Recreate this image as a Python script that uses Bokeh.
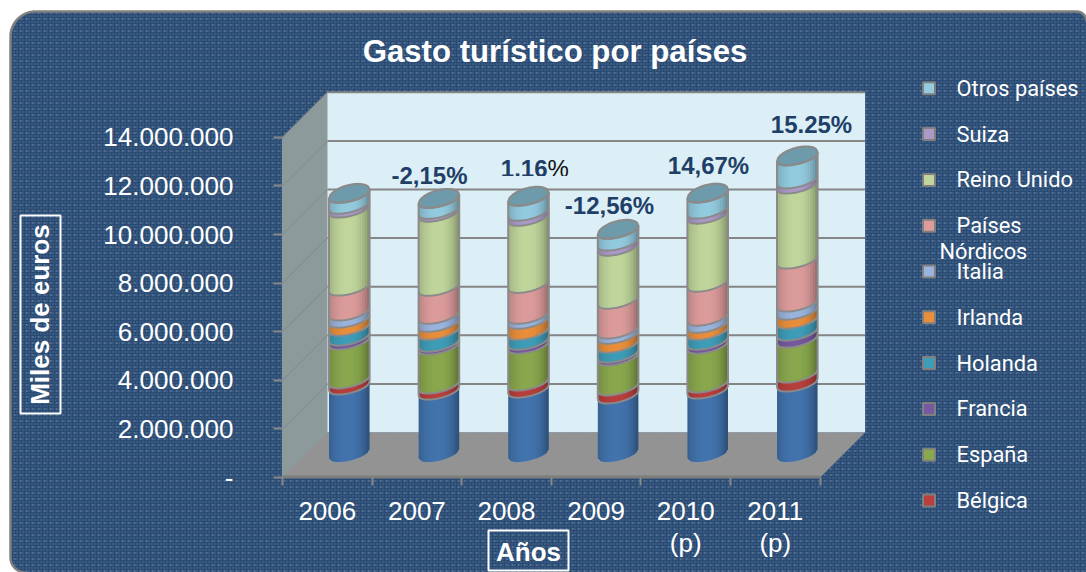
import math
from bokeh.plotting import figure
from bokeh.models import Range1d, FixedTicker
from bokeh.core.properties import value
from bokeh.embed import file_html
from bokeh.resources import INLINE

# ---------- data (miles de euros) ----------
years = ["2006", "2007", "2008", "2009", "2010", "2011"]
year_notes = ["", "", "", "", "(p)", "(p)"]
sin_leyenda = [2800000, 2590000, 2670000, 2430000, 2630000, 2920000]
belgica = [250000, 250000, 290000, 330000, 250000, 370000]
espana = [1600000, 1600000, 1520000, 1230000, 1600000, 1440000]
francia = [160000, 120000, 160000, 120000, 160000, 290000]
holanda = [410000, 490000, 410000, 410000, 410000, 490000]
irlanda = [330000, 330000, 450000, 370000, 290000, 370000]
italia = [290000, 330000, 210000, 210000, 290000, 330000]
nordicos = [1030000, 1150000, 1270000, 1230000, 1400000, 1770000]
reino_unido = [3210000, 3050000, 2760000, 2180000, 2800000, 3090000]
suiza = [160000, 120000, 210000, 210000, 210000, 210000]
otros = [450000, 450000, 620000, 490000, 660000, 950000]
series_values = [sin_leyenda, belgica, espana, francia, holanda, irlanda, italia,
                 nordicos, reino_unido, suiza, otros]
series_colors = ["#4374ad", "#b83f3d", "#8aa84e", "#7659a0", "#3f9db8", "#e98f3c",
                 "#9ab4de", "#dd9c9c", "#c0d69c", "#ab9ac8", "#93cbdf"]
legend_labels = ["", "Bélgica", "España", "Francia", "Holanda", "Irlanda", "Italia",
                 "Países", "Reino Unido", "Suiza", "Otros países"]
growth_labels = ["-2,15%", "1.16", "-12,56%", "14,67%", "15.25%"]
y_ticks = [0, 2000000, 4000000, 6000000, 8000000, 10000000, 12000000, 14000000]
y_tick_labels = ["-", "2.000.000", "4.000.000", "6.000.000", "8.000.000",
                 "10.000.000", "12.000.000", "14.000.000"]

# ---------- layout: page pixels <-> data ----------
X0, UX = 282.0, 89.6          # px of category 0, px per category
Y0, UY = 477.0, 48.6 / 2e6    # px of value 0, px per unit
def dx(px): return (px - X0) / UX
def dy(py): return (Y0 - py) / UY
def wx(px): return px / UX     # width in data
def wy(py): return py / UY     # height in data

p = figure(width=1086, height=572, output_backend="svg", toolbar_location=None,
           x_range=Range1d(dx(0), dx(1086)), y_range=Range1d(dy(572), dy(0)),
           min_border=0, outline_line_color=None, background_fill_color="white",
           border_fill_color="white")
p.grid.visible = False

# ---------- panel ----------
LEFT, TOP = 10.0, 11.0
p.quad(left=dx(LEFT), right=dx(1086), top=dy(TOP), bottom=dy(572), fill_color="#284a73", line_color=None)
rows_x, rows_y = [], []
for r in range(0, 188):
    y = TOP + 1.5 + 3 * r
    if y < 572:
        rows_x.append([dx(LEFT), dx(1086)])
        rows_y.append([dy(y), dy(y)])
p.multi_line(rows_x, rows_y, line_color="#6f8aa8", line_width=1, line_dash="1 2")
p.multi_line(rows_x[::2], rows_y[::2], line_color="#9db0c5", line_width=1, line_dash="1 5", line_dash_offset=2)

# corner masks and border
def corner(cx, cy, r, a0, a1, tipx, tipy):
    pts = [(cx + r * math.cos(math.radians(a0 + (a1 - a0) * k / 16)),
            cy - r * math.sin(math.radians(a0 + (a1 - a0) * k / 16))) for k in range(17)]
    xs = [dx(q[0]) for q in pts]
    ys = [dy(q[1]) for q in pts]
    p.patch(xs + [dx(tipx)], ys + [dy(tipy)], fill_color="white", line_color=None)
    p.line(xs, ys, line_color="#7f7f7f", line_width=2.5)
corner(LEFT + 25, TOP + 25, 25, 180, 90, 8, 8)
corner(LEFT + 15, 557, 15, 180, 270, 8, 572)
corner(1076, TOP + 10, 10, 90, 0, 1086, 8)
p.line([dx(LEFT), dx(LEFT)], [dy(TOP + 25), dy(557)], line_color="#7f7f7f", line_width=2.5)
p.line([dx(LEFT + 25), dx(1076)], [dy(TOP), dy(TOP)], line_color="#7f7f7f", line_width=2.5)

# ---------- 3D box ----------
n = len(years)
depth_x, depth_y = wx(45), wy(45)
top = y_ticks[-1]
p.patch([0, depth_x, depth_x, 0], [0, depth_y, top + depth_y, top],
        fill_color="#8c9a9c", line_color="#8f9a9b", line_width=1)
p.quad(left=depth_x, right=n + depth_x, bottom=depth_y, top=top + depth_y,
       fill_color="#dceff7", line_color=None)

# grid lines on the back and left walls
gt = y_ticks[1:]
p.multi_line([[depth_x, n + depth_x] for _ in gt], [[v + depth_y, v + depth_y] for v in gt],
             line_color="#858585", line_width=2)
p.multi_line([[0, depth_x] for _ in gt], [[v, v + depth_y] for v in gt],
             line_color="#7f8a8b", line_width=1)

# growth labels, drawn over the grid
label_color = "#1f3f66"
font = value("Liberation Sans")
label_x = [429, 0, 609, 708, 811]         # px centre
label_y = [174.5, 0, 204.5, 164.5, 124]   # px middle
for j, txt in enumerate(growth_labels):
    if txt == "1.16":
        xs = dx(547)
        ypos = dy(167.5)
        p.text([xs], [ypos], text=[txt], text_font=font, text_font_size="24px", text_font_style="bold",
               text_color=label_color, text_align="right", text_baseline="middle")
        p.text([xs], [ypos], text=["%"], text_font=font, text_font_size="24px",
               text_color="#111111", text_align="left", text_baseline="middle")
        p.quad(left=[dx(498)], right=[dx(575)], top=[dy(175.5)], bottom=[dy(186)], fill_color="#dceff7", line_color=None)
    else:
        p.text([dx(label_x[j])], [dy(label_y[j])], text=[txt], text_font=font, text_font_size="24px", text_font_style="bold",
               text_color=label_color, text_align="center", text_baseline="middle")

# floor
p.patch([0, depth_x, n + depth_x, n], [0, depth_y, depth_y, 0], fill_color="#939393", line_color=None)
p.quad(left=[0], right=[n], top=[wy(2)], bottom=[wy(-1)], fill_color="#7d7d7d", line_color=None)

# ---------- cylinders ----------
A, S, B = wx(20.3), wy(4.5), wy(7.0)
BASE = wy(23.3)
def center(i): return i + 0.5 + wx(22)
STRIPS = 16
def lower(cy, u): return cy + S * u - B * math.sqrt(max(0, 1 - u * u))
def upper(cy, u): return cy + S * u + 1.35 * B * math.sqrt(max(0, 1 - u * u))
def shade(col, f):
    r, g, b = int(col[1:3], 16), int(col[3:5], 16), int(col[5:7], 16)
    return "#%02x%02x%02x" % (int(r * f), int(g * f), int(b * f))
def shade_f(u):
    if u < -0.1:
        return 1.0 - 0.16 * ((-0.1 - u) / 0.9) ** 2
    return 1.0 - 0.34 * ((u + 0.1) / 1.1) ** 2.6

us = [-1 + 2 * k / STRIPS for k in range(STRIPS + 1)]
arc_us = [-1 + 2 * k / 32 for k in range(33)]
GREY = "#8a8a8a"
for i in range(n):
    c = center(i)
    cum = BASE
    xs_, ys_, cols = [], [], []
    arcs_x, arcs_y = [], []
    for k, s in enumerate(series_values):
        lo, hi = cum, cum + s[i]
        for q in range(STRIPS):
            u0 = us[q]
            u1 = min(1.0, us[q + 1] + 0.05)   # overlap the next strip to hide seams
            xs_.append([c + A * u0, c + A * u1, c + A * u1, c + A * u0])
            ys_.append([lower(lo, u0), lower(lo, u1), lower(hi, u1), lower(hi, u0)])
            cols.append(shade(series_colors[k], shade_f((us[q] + us[q + 1]) / 2)))
        arcs_x.append([c + A * u for u in arc_us])
        arcs_y.append([lower(hi, u) for u in arc_us])
        cum = hi
    p.patches(xs_, ys_, fill_color=cols, line_color=None)
    # top ellipse
    ex = [c + A * u for u in arc_us] + [c + A * u for u in reversed(arc_us)]
    ey = [lower(cum, u) for u in arc_us] + [upper(cum, u) for u in reversed(arc_us)]
    p.patch(ex, ey, fill_color="#6d9bab", line_color=GREY, line_width=2.2)
    # separators and sides
    p.multi_line(arcs_x, arcs_y, line_color=GREY, line_width=2)
    first = BASE + series_values[0][i]
    p.multi_line([[c - A, c - A], [c + A, c + A]],
                 [[lower(first, -1), lower(cum, -1)], [lower(first, 1), lower(cum, 1)]],
                 line_color=GREY, line_width=2)
    p.line([c + A * u for u in arc_us], [lower(BASE, u) for u in arc_us],
           line_color="#a0a0a0", line_width=1, line_alpha=0.7)

# ---------- axes ----------
ya = p.yaxis[0]
ya.fixed_location = 0
ya.bounds = (0, top)
ya.ticker = FixedTicker(ticks=y_ticks)
ya.major_label_overrides = dict(zip(y_ticks, y_tick_labels))
ya.axis_line_color = None
ya.major_tick_line_color = "#888888"
ya.major_tick_line_width = 2
ya.major_tick_in = 0
ya.major_tick_out = 9
ya.minor_tick_line_color = None
ya.major_label_standoff = 40
ya.major_label_text_color = "white"
ya.major_label_text_font = "Liberation Sans"
ya.major_label_text_font_size = "26px"

xa = p.xaxis[0]
xa.fixed_location = 0
xa.ticker = FixedTicker(ticks=[i + 0.5 for i in range(n)], minor_ticks=list(range(n + 1)))
xa.major_label_overrides = {i + 0.5: years[i] for i in range(n)}
xa.axis_line_color = None
xa.major_tick_line_color = None
xa.major_tick_in = 0
xa.major_tick_out = 0
xa.minor_tick_line_color = "#888888"
xa.minor_tick_line_width = 2
xa.minor_tick_in = 0
xa.minor_tick_out = 8
xa.major_label_standoff = 16
xa.major_label_text_color = "white"
xa.major_label_text_font = "Liberation Sans"
xa.major_label_text_font_size = "26px"

p.text([i + 0.5 for i in range(n)], [dy(542)] * n, text=year_notes, text_font=font, text_font_size="26px",
       text_color="white", text_align="center", text_baseline="middle")

# ---------- titles ----------
p.text([dx(554.5)], [dy(51)], text=["Gasto turístico por países"], text_font=font, text_font_size="31.2px",
       text_font_style="bold", text_color="white", text_align="center", text_baseline="middle")
p.quad(left=[dx(20)], right=[dx(60)], top=[dy(215)], bottom=[dy(413)], fill_color=None, line_color="white", line_width=2)
p.text([dx(39)], [dy(314)], text=["Miles de euros"], text_font=font, text_font_size="26px", angle=math.pi / 2,
       text_font_style="bold", text_color="white", text_align="center", text_baseline="middle")
p.quad(left=[dx(488)], right=[dx(568)], top=[dy(530)], bottom=[dy(570)], fill_color=None, line_color="white", line_width=2)
p.text([dx(528)], [dy(551)], text=["Años"], text_font=font, text_font_size="26px",
       text_font_style="bold", text_color="white", text_align="center", text_baseline="middle")

# ---------- legend ----------
lf = value("Roboto")
for k in range(1, len(series_values)):
    ly = 500 - (k - 1) * 45.8
    p.scatter([dx(928.5)], [dy(ly)], marker="square", size=12, fill_color=series_colors[k],
              line_color="#808080", line_width=2)
    p.text([dx(956)], [dy(ly)], text=[legend_labels[k]], text_font=lf, text_font_size="21.8px",
           text_color="white", text_align="left", text_baseline="middle")
p.text([dx(939)], [dy(251)], text=["Nórdicos"], text_font=lf, text_font_size="21.8px",
       text_color="white", text_align="left", text_baseline="middle")

html = file_html(p, INLINE)
open("out.html", "w").write(html)
